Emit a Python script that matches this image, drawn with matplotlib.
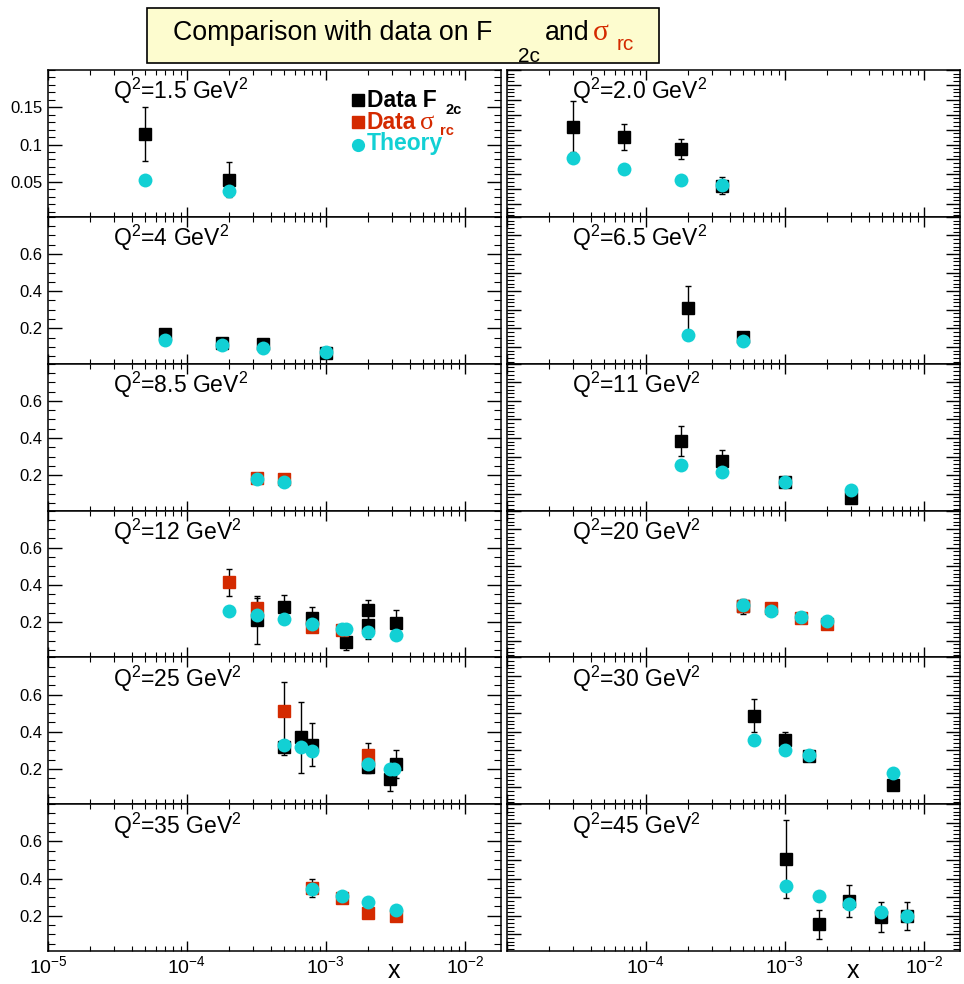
import numpy as np
import matplotlib.pyplot as plt
from matplotlib.ticker import MultipleLocator, LogLocator, NullFormatter, FixedLocator
from matplotlib.transforms import IdentityTransform
from matplotlib.patches import Rectangle

plt.rcParams['font.family'] = ['Liberation Sans', 'DejaVu Sans']
plt.rcParams['mathtext.fontset'] = 'custom'
plt.rcParams['mathtext.rm'] = 'Liberation Sans'
plt.rcParams['mathtext.it'] = 'Liberation Sans:italic'
plt.rcParams['mathtext.bf'] = 'Liberation Sans:bold'

W, H = 964, 984

# Q^2 of each panel, row by row
q2_labels = ["1.5", "2.0", "4", "6.5", "8.5", "11", "12", "20", "25", "30", "35", "45"]

# Data F2c (black squares)
f2c_x = [[5e-5, 2e-4],
         [3e-5, 7e-5, 1.8e-4, 3.5e-4],
         [7e-5, 1.8e-4, 3.5e-4, 1e-3],
         [2e-4, 5e-4],
         [],
         [1.8e-4, 3.5e-4, 1e-3, 3e-3],
         [3.2e-4, 5e-4, 8e-4, 1.4e-3, 2e-3, 2e-3, 3.2e-3],
         [5e-4],
         [5e-4, 6.6e-4, 8e-4, 2e-3, 2.9e-3, 3.2e-3],
         [6e-4, 1e-3, 1.5e-3, 6e-3],
         [],
         [1.02e-3, 1.76e-3, 2.9e-3, 4.9e-3, 7.6e-3]]
f2c_y = [[0.114, 0.053],
         [0.124, 0.110, 0.094, 0.045],
         [0.17, 0.122, 0.117, 0.065],
         [0.309, 0.154],
         [],
         [0.385, 0.275, 0.164, 0.079],
         [0.21, 0.28, 0.22, 0.092, 0.264, 0.182, 0.195],
         [0.285],
         [0.317, 0.37, 0.331, 0.21, 0.143, 0.227],
         [0.487, 0.353, 0.268, 0.111],
         [],
         [0.503, 0.155, 0.28, 0.193, 0.2]]
f2c_err = [[0.036, 0.023],
           [0.034, 0.017, 0.014, 0.012],
           [0.02, 0.02, 0.02, 0.015],
           [0.12, 0.02],
           [],
           [0.082, 0.058, 0.02, 0.015],
           [0.13, 0.063, 0.06, 0.045, 0.056, 0.074, 0.07],
           [0.04],
           [0.04, 0.19, 0.117, 0.03, 0.06, 0.075],
           [0.088, 0.044, 0.02, 0.02],
           [],
           [0.21, 0.078, 0.087, 0.081, 0.076]]

# Data sigma_rc (red squares)
rc_x = [[], [], [], [], [3.2e-4, 5e-4], [],
        [2e-4, 3.2e-4, 8e-4, 1.3e-3],
        [5e-4, 8e-4, 1.3e-3, 2e-3],
        [5e-4, 2e-3], [],
        [8e-4, 1.3e-3, 2e-3, 3.2e-3], []]
rc_y = [[], [], [], [], [0.186, 0.177], [],
        [0.413, 0.278, 0.175, 0.155],
        [0.284, 0.276, 0.223, 0.191],
        [0.509, 0.277], [],
        [0.349, 0.293, 0.215, 0.196], []]
rc_err = [[], [], [], [], [0.02, 0.02], [],
          [0.074, 0.05, 0.03, 0.02],
          [0.025, 0.02, 0.02, 0.02],
          [0.16, 0.063], [],
          [0.047, 0.02, 0.02, 0.02], []]

# Theory (cyan circles)
th_x = [[5e-5, 2e-4],
        [3e-5, 7e-5, 1.8e-4, 3.5e-4],
        [7e-5, 1.8e-4, 3.5e-4, 1e-3],
        [2e-4, 5e-4],
        [3.2e-4, 5e-4],
        [1.8e-4, 3.5e-4, 1e-3, 3e-3],
        [2e-4, 3.2e-4, 5e-4, 8e-4, 1.3e-3, 1.4e-3, 2e-3, 3.2e-3],
        [5e-4, 8e-4, 1.3e-3, 2e-3],
        [5e-4, 6.6e-4, 8e-4, 2e-3, 2.9e-3, 3.1e-3],
        [6e-4, 1e-3, 1.5e-3, 6e-3],
        [8e-4, 1.3e-3, 2e-3, 3.2e-3],
        [1.02e-3, 1.76e-3, 2.9e-3, 4.9e-3, 7.6e-3]]
th_y = [[0.053, 0.038],
        [0.082, 0.067, 0.053, 0.046],
        [0.14, 0.11, 0.096, 0.073],
        [0.166, 0.133],
        [0.182, 0.163],
        [0.257, 0.216, 0.164, 0.12],
        [0.257, 0.239, 0.214, 0.191, 0.164, 0.16, 0.147, 0.129],
        [0.292, 0.259, 0.226, 0.204],
        [0.331, 0.317, 0.295, 0.227, 0.2, 0.2],
        [0.353, 0.304, 0.272, 0.177],
        [0.345, 0.305, 0.271, 0.23],
        [0.36, 0.304, 0.261, 0.222, 0.2]]

RED = '#d42a00'
CYAN = '#12d0d4'
NARROW = ['Liberation Sans Narrow', 'DejaVu Sans Condensed', 'Liberation Sans']

fig = plt.figure(figsize=(W / 100, H / 100), dpi=100)
fig.patch.set_facecolor('white')


def px_text(x, y, s, **kw):
    # text placed in pixel coordinates, y measured from the top
    return fig.text(x, H - y, s, transform=IdentityTransform(),
                    ha='left', va='baseline', **kw)


# title box
fig.add_artist(Rectangle((147 / W, 1 - 63 / H), 512 / W, 55 / H,
                         transform=fig.transFigure, fc='#fdfccf', ec='black', lw=1.2))
renderer = fig.canvas.get_renderer()
t = px_text(173, 40, "Comparison with data on F", fontsize=26, family=NARROW)
w = t.get_window_extent(renderer).width
fs = min(26, 26 * 320 / w)
t.set_fontsize(fs)
px_text(518, 62, "2c", fontsize=15, family=NARROW)
px_text(545, 40, "and", fontsize=fs, family=NARROW)
px_text(593, 40, "σ", fontsize=fs + 2, color=RED, family='Liberation Serif')
px_text(617, 50, "rc", fontsize=15, color=RED, family=NARROW)

row_h = (951 - 70) / 6
lefts = [48, 507]
widths = [453, 453]

axes = []
for i, q in enumerate(q2_labels):
    r, c = divmod(i, 2)
    ax = fig.add_axes([lefts[c] / W, 1 - (70 + (r + 1) * row_h) / H,
                       widths[c] / W, row_h / H])
    axes.append(ax)
    ax.set_xscale('log')
    ax.set_xlim(1e-5, 0.0182)
    if r == 0:
        ax.set_ylim(0.003, 0.2)
    else:
        ax.set_ylim(0.01, 0.8)

    if len(f2c_x[i]):
        ax.errorbar(f2c_x[i], f2c_y[i], yerr=f2c_err[i], fmt='s', color='black',
                    ms=9, ecolor='black', elinewidth=1, capsize=2.5, capthick=1, zorder=3)
    if len(rc_x[i]):
        ax.errorbar(rc_x[i], rc_y[i], yerr=rc_err[i], fmt='s', mfc=RED, mec=RED,
                    ms=9, ecolor='black', elinewidth=1, capsize=2.5, capthick=1, zorder=4)
    ax.plot(th_x[i], th_y[i], 'o', color=CYAN, mec='none', ms=10, zorder=5)

    ax.text(0.143, 0.80, r"Q$^{2}$=" + q + r" GeV$^{2}$", transform=ax.transAxes,
            fontsize=16.5, ha='left', va='baseline')

    # x axis
    ax.xaxis.set_major_locator(FixedLocator([1e-5, 1e-4, 1e-3, 1e-2]))
    ax.xaxis.set_minor_locator(LogLocator(base=10, subs=np.arange(2, 10)))
    ax.xaxis.set_minor_formatter(NullFormatter())
    if r == 5:
        labs = [r"$10^{-5}$", r"$10^{-4}$", r"$10^{-3}$", r"$10^{-2}$"]
        if c == 1:
            labs[0] = ""
        ax.set_xticklabels(labs)
        ax.text(0.764, -0.184, "x", transform=ax.transAxes, ha='center', va='baseline',
                fontsize=18)
    else:
        ax.set_xticklabels([])
    ax.tick_params(axis='x', which='major', length=7, width=1, direction='in',
                   top=True, bottom=True, labelsize=14, pad=3)
    ax.tick_params(axis='x', which='minor', length=3.5, width=0.8, direction='in',
                   top=True, bottom=True)

    # y axis
    if c == 0:
        if r == 0:
            ax.set_yticks([0.05, 0.1, 0.15])
            ax.set_yticklabels(["0.05", "0.1", "0.15"])
            ax.yaxis.set_minor_locator(MultipleLocator(0.01))
        else:
            ax.set_yticks([0.2, 0.4, 0.6])
            ax.set_yticklabels(["0.2", "0.4", "0.6"])
            ax.yaxis.set_minor_locator(MultipleLocator(0.05))
    else:
        if r == 0:
            ax.yaxis.set_major_locator(MultipleLocator(0.02))
            ax.yaxis.set_minor_locator(MultipleLocator(0.005))
        else:
            ax.yaxis.set_major_locator(MultipleLocator(0.1))
            ax.yaxis.set_minor_locator(MultipleLocator(0.02))
        ax.set_yticklabels([])
    ax.tick_params(axis='y', which='major', length=10, width=1, direction='in',
                   left=True, right=True, labelsize=12, pad=4)
    ax.tick_params(axis='y', which='minor', length=5, width=0.8, direction='in',
                   left=True, right=True)
    for s in ax.spines.values():
        s.set_linewidth(1.1)

# key in the first panel
ax0 = axes[0]
ax0.plot([0.684], [0.796], 's', color='black', ms=9, transform=ax0.transAxes, clip_on=False)
ax0.plot([0.684], [0.646], 's', color=RED, ms=9, transform=ax0.transAxes, clip_on=False)
ax0.plot([0.684], [0.489], 'o', color=CYAN, mec='none', ms=9.5, transform=ax0.transAxes,
         clip_on=False)
px_text(367, 107, "Data F", fontsize=16.5, fontweight='bold')
px_text(445, 114, "2c", fontsize=10.5, fontweight='bold')
px_text(367, 129, "Data", fontsize=16.5, fontweight='bold', color=RED)
px_text(420, 129, "σ", fontsize=19, color=RED, family='Liberation Serif')
px_text(440, 135, "rc", fontsize=10.5, fontweight='bold', color=RED)
px_text(367, 150, "Theory", fontsize=16.5, fontweight='bold', color=CYAN)

fig.savefig("out.png", dpi=100)
